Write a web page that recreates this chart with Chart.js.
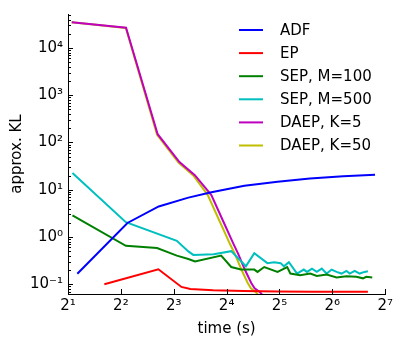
<!DOCTYPE html>
<html>
<head>
<meta charset="utf-8">
<script src="https://cdn.jsdelivr.net/npm/chart.js@4.4.1/dist/chart.umd.min.js"></script>
<style>
  html, body { margin: 0; padding: 0; background: #fff; }
  #wrap { width: 396px; height: 338px; }
</style>
</head>
<body>
<div id="wrap"><canvas id="grafica"></canvas></div>
<script>
// datos (tiempo en s, KL aproximado)
const adfTime = [2.26, 4.36, 6.57, 9.69, 13.1, 20.2, 31.2, 47.7, 73.8, 112];
const adfKL   = [0.167, 1.98, 4.43, 6.8, 8.8, 12.1, 14.7, 17.2, 19.3, 20.8];

const epTime = [3.22, 6.54, 8.85, 9.94, 13.4, 20.0, 31.2, 50.0, 102];
const epKL   = [0.0995, 0.207, 0.0875, 0.079, 0.0745, 0.072, 0.070, 0.0695, 0.069];

const sep100Time = [2.12, 4.27, 6.43, 8.33, 9.69, 10.57, 14.9, 17.0, 19.3, 23.0, 24.0, 26.2, 31.2, 35.4, 36.9, 42.0, 47.9, 52.2, 59.4, 67.7, 77.0, 87.7, 95.6, 99.8, 108];
const sep100KL   = [2.86, 0.651, 0.583, 0.403, 0.341, 0.303, 0.403, 0.231, 0.204, 0.204, 0.182, 0.231, 0.182, 0.231, 0.168, 0.155, 0.168, 0.150, 0.160, 0.139, 0.148, 0.143, 0.133, 0.143, 0.139];

const sep500Time = [2.12, 4.27, 8.33, 9.69, 10.34, 13.5, 17.0, 20.6, 23.0, 27.3, 29.8, 32.5, 33.9, 36.2, 40.3, 44.0, 45.9, 49.0, 52.2, 55.7, 59.4, 63.4, 67.7, 72.2, 77.0, 80.4, 85.8, 91.5, 97.6, 102];
const sep500KL   = [22.6, 2.05, 0.826, 0.495, 0.417, 0.43, 0.50, 0.239, 0.451, 0.279, 0.293, 0.279, 0.239, 0.293, 0.168, 0.204, 0.182, 0.214, 0.182, 0.214, 0.168, 0.204, 0.182, 0.168, 0.191, 0.168, 0.191, 0.168, 0.182, 0.188];

const daep5Time = [2.10, 4.28, 6.48, 8.62, 10.55, 13.1, 15.3, 17.5, 18.6, 20.4, 22.1, 23.1, 24.8, 27.0];
const daep5KL   = [35000, 27000, 150, 38.5, 20.3, 7.69, 2.15, 0.716, 0.444, 0.197, 0.106, 0.0822, 0.0673, 0.047];

const daep50Time = [2.10, 4.27, 6.43, 8.51, 10.34, 12.5, 14.6, 16.7, 17.8, 19.5, 21.1, 22.0, 23.5, 25.6];
const daep50KL   = [35000, 26600, 146, 37.7, 20.0, 7.69, 2.15, 0.716, 0.444, 0.197, 0.106, 0.0822, 0.0673, 0.047];

const xTicks = [2, 4, 8, 16, 32, 64, 128];
const yMin = 0.062;
const yMax = 52500;

const fuente = 'DejaVu Sans';
const supMap = {'0':'⁰','1':'¹','2':'²','3':'³','4':'⁴','5':'⁵','6':'⁶','7':'⁷','8':'⁸','9':'⁹','-':'⁻'};
const sup = n => String(n).split('').map(c => supMap[c]).join('');

const pares = (t, v) => t.map((x, i) => ({ x: x, y: v[i] }));

function serie(label, color, t, v) {
  return {
    label: label,
    data: pares(t, v),
    borderColor: color,
    backgroundColor: color,
    borderWidth: 2,
    pointRadius: 0,
    tension: 0,
    fill: false,
    clip: 0,
  };
}

// leyenda dibujada a mano dentro del area
const leyenda = {
  id: 'leyenda',
  afterDraw(chart) {
    const ctx = chart.ctx;
    ctx.save();
    ctx.font = '15px "' + fuente + '"';
    ctx.textBaseline = 'middle';
    ctx.textAlign = 'left';
    chart.data.datasets.forEach((ds, i) => {
      const y = 30 + i * 23.1;
      ctx.strokeStyle = ds.borderColor;
      ctx.lineWidth = 2;
      ctx.beginPath();
      ctx.moveTo(239, y);
      ctx.lineTo(263, y);
      ctx.stroke();
      ctx.fillStyle = '#000';
      ctx.fillText(ds.label, 280, y + 1);
    });
    ctx.restore();
  }
};

// marcas de los ejes hacia dentro
const marcas = {
  id: 'marcas',
  afterDraw(chart) {
    const { ctx, chartArea, scales } = chart;
    ctx.save();
    ctx.strokeStyle = '#000';
    ctx.lineWidth = 1;
    ctx.beginPath();
    scales.y.ticks.forEach(t => {
      const py = Math.round(scales.y.getPixelForValue(t.value)) + 0.5;
      ctx.moveTo(chartArea.left, py);
      ctx.lineTo(chartArea.left + (t.major ? 5 : 3), py);
    });
    scales.x.ticks.forEach(t => {
      const px = Math.round(scales.x.getPixelForValue(t.value)) + 0.5;
      ctx.moveTo(px, chartArea.bottom);
      ctx.lineTo(px, chartArea.bottom - 5);
    });
    ctx.stroke();
    ctx.restore();
  }
};

new Chart(document.getElementById('grafica'), {
  type: 'line',
  data: {
    datasets: [
      serie('ADF', '#0000ff', adfTime, adfKL),
      serie('EP', '#ff0000', epTime, epKL),
      serie('SEP, M=100', '#008000', sep100Time, sep100KL),
      serie('SEP, M=500', '#00bfbf', sep500Time, sep500KL),
      serie('DAEP, K=5', '#bf00bf', daep5Time, daep5KL),
      serie('DAEP, K=50', '#bfbf00', daep50Time, daep50KL),
    ],
  },
  options: {
    responsive: true,
    maintainAspectRatio: false,
    animation: false,
    layout: { padding: { top: 8, right: 7, left: 0, bottom: 0 } },
    plugins: {
      legend: { display: false },
      tooltip: { enabled: false },
    },
    scales: {
      x: {
        type: 'logarithmic',
        min: 2,
        max: 128,
        afterBuildTicks: scale => { scale.ticks = xTicks.map(v => ({ value: v, major: true })); },
        afterFit: scale => { scale.height = 44; },
        grid: { display: false, drawTicks: false },
        border: { display: true, color: '#000', width: 1 },
        ticks: {
          autoSkip: false,
          maxRotation: 0,
          padding: 3,
          color: '#000',
          font: { family: fuente, size: 15 },
          callback: v => '2' + sup(Math.round(Math.log2(v))),
        },
        title: {
          display: true,
          text: 'time (s)',
          color: '#000',
          font: { family: fuente, size: 15 },
          padding: { top: 0, bottom: 0 },
        },
      },
      y: {
        type: 'logarithmic',
        min: yMin,
        max: yMax,
        afterBuildTicks: scale => {
          const ticks = [];
          for (let e = -2; e <= 5; e++) {
            for (let m = 1; m <= 9; m++) {
              const v = m * Math.pow(10, e);
              if (v >= yMin && v <= yMax) ticks.push({ value: v, major: m === 1 });
            }
          }
          scale.ticks = ticks;
        },
        afterFit: scale => { scale.width = 68; },
        grid: { display: false, drawTicks: false },
        border: { display: true, color: '#000', width: 1 },
        ticks: {
          autoSkip: false,
          padding: 5,
          color: '#000',
          font: { family: fuente, size: 15 },
          callback: v => {
            const e = Math.round(Math.log10(v));
            return Math.abs(v / Math.pow(10, e) - 1) < 1e-6 ? '10' + sup(e) : '';
          },
        },
        title: {
          display: true,
          text: 'approx. KL',
          color: '#000',
          font: { family: fuente, size: 15 },
          padding: { top: 8, bottom: 0 },
        },
      },
    },
  },
  plugins: [leyenda, marcas],
});
</script>
</body>
</html>
